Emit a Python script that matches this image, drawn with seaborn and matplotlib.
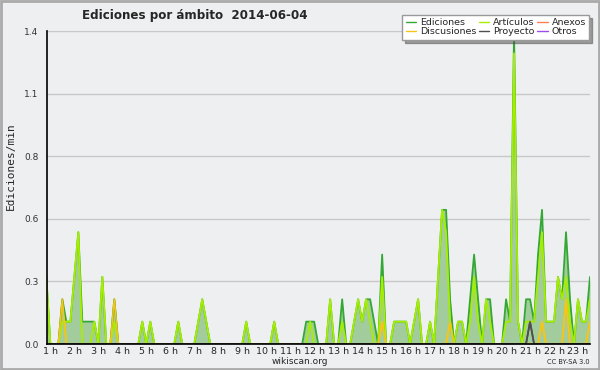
import numpy as np
import pandas as pd
import seaborn as sns
import matplotlib.pyplot as plt
from matplotlib.lines import Line2D
from matplotlib.patches import Rectangle

sns.set_style('white')
plt.rcParams['font.family'] = ['DejaVu Sans']

# edits per minute, one value every 10 minutes, first bin 0:50
ediciones = [0.3,
             0, 0, 0, 0.2, 0.1, 0.1,
             0.3, 0.5, 0.1, 0.1, 0.1, 0.1,
             0, 0.3, 0, 0, 0.2, 0,
             0, 0, 0, 0, 0, 0.1,
             0, 0.1, 0, 0, 0, 0,
             0, 0, 0.1, 0, 0, 0,
             0, 0.1, 0.2, 0.1, 0, 0,
             0, 0, 0, 0, 0, 0,
             0, 0.1, 0, 0, 0, 0,
             0, 0, 0.1, 0, 0, 0,
             0, 0, 0, 0, 0.1, 0.1,
             0.1, 0, 0, 0, 0.2, 0,
             0, 0.2, 0, 0, 0.1, 0.2,
             0.1, 0.2, 0.2, 0.1, 0, 0.4,
             0, 0, 0.1, 0.1, 0.1, 0.1,
             0, 0.1, 0.2, 0, 0, 0.1,
             0, 0.3, 0.6, 0.6, 0.2, 0,
             0.1, 0.1, 0, 0.2, 0.4, 0.2,
             0, 0.2, 0.2, 0, 0, 0,
             0.2, 0.1, 1.4, 0.1, 0, 0.2,
             0.2, 0.1, 0.4, 0.6, 0.1, 0.1,
             0.1, 0.3, 0.2, 0.5, 0.2, 0,
             0.2, 0.1, 0.1, 0.3]
articulos = [0.3,
             0, 0, 0, 0.1, 0.1, 0.1,
             0.3, 0.5, 0, 0, 0, 0.1,
             0, 0.3, 0, 0, 0.1, 0,
             0, 0, 0, 0, 0, 0.1,
             0, 0.1, 0, 0, 0, 0,
             0, 0, 0.1, 0, 0, 0,
             0, 0.1, 0.2, 0.1, 0, 0,
             0, 0, 0, 0, 0, 0,
             0, 0.1, 0, 0, 0, 0,
             0, 0, 0.1, 0, 0, 0,
             0, 0, 0, 0, 0, 0.1,
             0, 0, 0, 0, 0.2, 0,
             0, 0.1, 0, 0, 0.1, 0.2,
             0.1, 0.2, 0.1, 0, 0, 0.3,
             0, 0, 0.1, 0.1, 0.1, 0.1,
             0, 0.1, 0.2, 0, 0, 0.1,
             0, 0.3, 0.6, 0.5, 0.1, 0,
             0.1, 0.1, 0, 0.1, 0.3, 0.1,
             0, 0.2, 0.1, 0, 0, 0,
             0.1, 0.1, 1.3, 0.1, 0, 0.1,
             0.1, 0.1, 0.3, 0.5, 0.1, 0.1,
             0.1, 0.3, 0.2, 0.3, 0.1, 0,
             0.2, 0.1, 0.1, 0.2]
discusiones = [0,
               0, 0, 0, 0.2, 0, 0,
               0, 0, 0, 0, 0, 0,
               0, 0, 0, 0, 0.2, 0,
               0, 0, 0, 0, 0, 0,
               0, 0, 0, 0, 0, 0,
               0, 0, 0, 0, 0, 0,
               0, 0, 0, 0, 0, 0,
               0, 0, 0, 0, 0, 0,
               0, 0, 0, 0, 0, 0,
               0, 0, 0, 0, 0, 0,
               0, 0, 0, 0, 0, 0,
               0, 0, 0, 0, 0, 0,
               0, 0, 0, 0, 0, 0,
               0, 0, 0, 0, 0, 0.1,
               0, 0, 0, 0, 0, 0,
               0, 0, 0, 0, 0, 0,
               0, 0, 0, 0, 0.1, 0,
               0, 0, 0, 0, 0, 0,
               0, 0, 0, 0, 0, 0,
               0, 0, 0, 0, 0, 0,
               0, 0, 0, 0.1, 0, 0,
               0, 0, 0, 0.2, 0, 0,
               0, 0, 0, 0.1]
proyecto = [0] * 121 + [0.1] + [0] * 15
anexos = [0] * 137
otros = [0] * 137

series = ['Ediciones', 'Discusiones', 'Artículos', 'Proyecto', 'Anexos', 'Otros']
colors = {'Ediciones': '#34a834', 'Artículos': '#a6ee00', 'Discusiones': '#f5c518',
          'Proyecto': '#505050', 'Anexos': '#ff7f50', 'Otros': '#9b4dee'}
hour_labels = ['%d h' % h for h in range(1, 24)]
y_ticks = [0, 0.28, 0.56, 0.84, 1.12, 1.4]
y_labels = ['0.0', '0.3', '0.6', '0.8', '1.1', '1.4']

hours = np.arange(50, 50 + 10 * len(ediciones), 10) / 60.0
df = pd.DataFrame({'hora': hours, 'Ediciones': ediciones, 'Artículos': articulos,
                   'Discusiones': discusiones, 'Proyecto': proyecto,
                   'Anexos': anexos, 'Otros': otros})

bg = '#eeeff1'
fig = plt.figure(figsize=(6, 3.7), dpi=100)
fig.patch.set_facecolor(bg)
ax = fig.add_axes([47 / 600, 26 / 370, 543 / 600, 313 / 370])
ax.set_facecolor(bg)

ax.fill_between(df['hora'], df['Ediciones'], color='#9fcb98', alpha=0.95, lw=0, zorder=1)
for name in ['Otros', 'Anexos', 'Proyecto', 'Discusiones', 'Ediciones', 'Artículos']:
    sns.lineplot(data=df, x='hora', y=name, color=colors[name], lw=1.3, ax=ax, zorder=2)
sns.lineplot(data=df, x='hora', y='Discusiones', color=colors['Discusiones'], lw=1.1,
             ax=ax, zorder=2)
sns.lineplot(data=df, x='hora', y='Proyecto', color=colors['Proyecto'], lw=1.1, ax=ax, zorder=2)

ax.set_xlim(0.86, 23.5)
ax.set_ylim(0, 1.4)
ax.set_xlabel('')
ax.set_ylabel('')
ax.set_yticks(y_ticks)
ax.set_yticklabels(y_labels, fontsize=6.5, color='#333333')
ax.set_yticks(np.arange(0, 1.41, 0.07), minor=True)
ax.set_xticks(range(1, 24))
ax.set_xticklabels(hour_labels, fontsize=6.8)
ax.set_xticks(np.arange(1, 23.6, 1 / 6), minor=True)
ax.tick_params(axis='y', which='major', length=5, width=1, pad=1)
ax.tick_params(axis='y', which='minor', length=3, width=1)
ax.tick_params(axis='x', which='both', length=2.5, width=1, pad=0)
ax.grid(axis='y', color='#c8c8c8', lw=1)
for s in ['top', 'right']:
    ax.spines[s].set_visible(False)
for s in ['left', 'bottom']:
    ax.spines[s].set_color('black')
    ax.spines[s].set_linewidth(1.2)
    ax.spines[s].set_zorder(5)

handles = [Line2D([], [], color=colors[n], lw=1) for n in series]
leg = ax.legend(handles, series, ncol=3, loc='upper right',
                bbox_to_anchor=(594 / 600, 1 - 10 / 370), bbox_transform=fig.transFigure,
                fontsize=6.8, frameon=True, fancybox=False, shadow=True,
                handlelength=1.1, handletextpad=0.4, columnspacing=0.3,
                labelspacing=0.05, borderpad=0.35)
leg.get_frame().set_edgecolor('#999999')
leg.get_frame().set_facecolor('white')
leg.set_zorder(10)

fig.text(0.325, 0.957, 'Ediciones por ámbito  2014-06-04', fontsize=8.6,
         fontweight='bold', ha='center', va='center')
fig.text(0.018, 0.55, 'Ediciones/min', rotation=90, fontsize=8,
         family='DejaVu Sans Mono', ha='center', va='center')
fig.text(0.5, 0.022, 'wikiscan.org', fontsize=6.5, ha='center', va='center')
fig.text(0.982, 0.022, 'CC BY-SA 3.0', fontsize=4.8, ha='right', va='center')
fig.patches.append(Rectangle((0.002, 0.003), 0.996, 0.994, transform=fig.transFigure,
                             fill=False, edgecolor='#aaaaaa', lw=2))

fig.savefig('out.png', dpi=100, facecolor=bg)
